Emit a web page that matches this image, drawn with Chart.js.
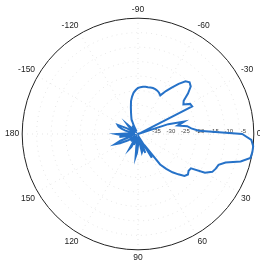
<!DOCTYPE html>
<html>
<head>
<meta charset="utf-8">
<script src="https://cdn.jsdelivr.net/npm/chart.js@4.4.1/dist/chart.umd.min.js"></script>
<style>
  html, body { margin: 0; padding: 0; background: #ffffff; overflow: hidden; width: 260px; height: 265px; }
  #wrap { position: absolute; left: 0; top: 0; }
  canvas { display: block; }
</style>
</head>
<body>
<div id="wrap"><canvas id="c"></canvas></div>
<script>
// ---- data (angle in degrees, clockwise from the right; gain in dB) ----
const angleDeg = [];
for (let a = 0; a < 360; a += 3) angleDeg.push(a);

const gainDb = [
  -4, -0.8, 0, 0, -0.3, -3.3, -8.2, -10.2, -10.6, -11.2,
  -13.3, -18.2, -18.4, -17.8, -18.4, -20.3, -22.2, -24.5, -27, -33.5,
  -30.5, -37, -38, -33, -37, -34, -33.5, -38, -37, -39,
  -36, -33.5, -32, -37, -39, -37.5, -39, -36, -38, -35,
  -34, -38, -39.5, -37, -39, -36.5, -38.5, -37, -39, -36,
  -35, -33, -31.3, -33.5, -38, -36, -37.5, -33.5, -37, -34,
  -32.5, -36, -38.5, -37, -39, -35.5, -34, -32.8, -32.3, -35.5,
  -38.5, -37, -39, -36, -35, -38, -37, -39, -38, -36.5,
  -39, -37, -34.5, -33.5, -32.2, -30.5, -28.4, -26.9, -25.6, -24.8,
  -24.1, -23.8, -23.6, -23.5, -23.5, -23.4, -23.3, -23.4, -23.6, -24,
  -24.6, -22.3, -20.2, -17.7, -15.5, -14.8, -15.5, -17.8, -20.5, -21.3,
  -19.2, -19.0, -39, -40, -29, -23.5, -26, -22.8, -21.5, -19
];

const thetaTickLabels = ['0', '30', '60', '90', '120', '150', '180', '-150', '-120', '-90', '-60', '-30'];
const rTickLabels = [-35, -30, -25, -20, -15, -10, -5];
const rMin = -40, rMax = 0;

// ---- layout targets ----
const TARGET_R = 116, TARGET_X = 138, TARGET_Y = 134;
const LINE_COLOR = '#2672c8';
const GRID_COLOR = 'rgba(0,0,0,0.13)';

const rTickPlugin = {
  id: 'rTicks',
  beforeDatasetsDraw(chart) {
    const s = chart.scales.r;
    const ctx = chart.ctx;
    ctx.save();
    ctx.font = '6px "Liberation Sans", Arial, sans-serif';
    ctx.fillStyle = '#444';
    ctx.textAlign = 'center';
    ctx.textBaseline = 'middle';
    rTickLabels.forEach(v => {
      const d = s.getDistanceFromCenterForValue(v);
      ctx.fillText(String(v), s.xCenter + d + 4, s.yCenter - 3);
    });
    ctx.restore();
  }
};

function makeConfig() {
  return {
    type: 'radar',
    data: {
      labels: angleDeg,
      datasets: [{
        data: gainDb,
        borderColor: LINE_COLOR,
        borderWidth: 2,
        pointRadius: 0,
        pointHoverRadius: 0,
        fill: false,
        tension: 0,
        clip: false
      }]
    },
    options: {
      responsive: false,
      animation: false,
      devicePixelRatio: 1,
      layout: { padding: 20 },
      plugins: { legend: { display: false }, tooltip: { enabled: false } },
      scales: {
        r: {
          min: rMin, max: rMax, startAngle: 90,
          ticks: { display: false, stepSize: 5 },
          grid: {
            circular: true,
            color: c => (c.tick && c.tick.value === rMax) ? '#222' : GRID_COLOR,
            lineWidth: c => (c.tick && c.tick.value === rMax) ? 1 : 0.8
          },
          border: { dash: c => (c.tick && c.tick.value === rMax) ? [] : [1, 4] },
          angleLines: {
            color: GRID_COLOR,
            lineWidth: c => (angleDeg[c.index] % 30 === 0) ? 0.8 : 0,
            borderDash: [1, 4]
          },
          pointLabels: {
            padding: 3,
            color: '#222',
            font: { family: '"Liberation Sans", Arial, sans-serif', size: 8.5 },
            callback: (label, i) => (angleDeg[i] % 30 === 0) ? thetaTickLabels[angleDeg[i] / 30] : ''
          }
        }
      }
    },
    plugins: [rTickPlugin]
  };
}

const canvas = document.getElementById('c');
const wrap = document.getElementById('wrap');
function build(S) {
  canvas.width = S; canvas.height = S;
  canvas.style.width = S + 'px'; canvas.style.height = S + 'px';
  return new Chart(canvas, makeConfig());
}
let S = 300;
let chart = build(S);
for (let k = 0; k < 6; k++) {
  const d = chart.scales.r.drawingArea;
  if (Math.round(d) === TARGET_R) break;
  chart.destroy();
  S = S + Math.round(2 * (TARGET_R - d));
  chart = build(S);
}
const sc = chart.scales.r;
wrap.style.left = Math.round(TARGET_X - sc.xCenter) + 'px';
wrap.style.top = Math.round(TARGET_Y - sc.yCenter) + 'px';
</script>
</body>
</html>
